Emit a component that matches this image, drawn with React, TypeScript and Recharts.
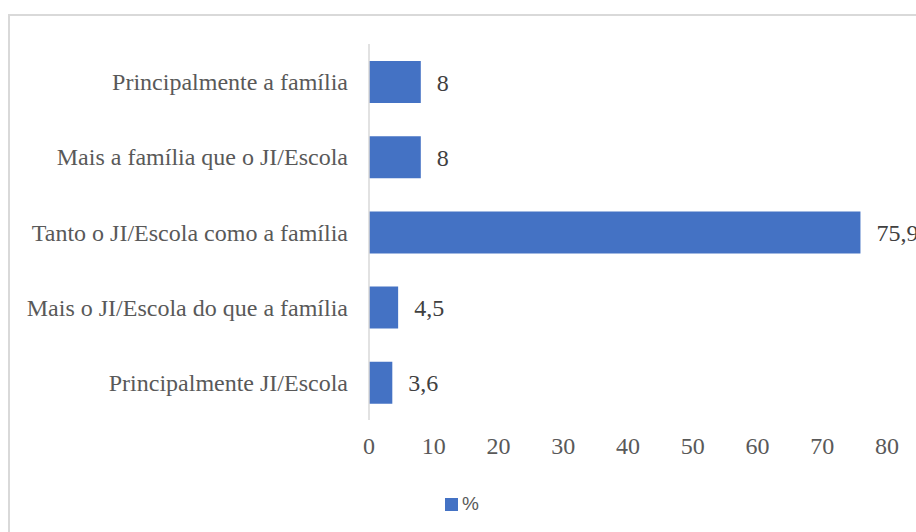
import { type ReactElement } from 'react';
import { Bar, BarChart, LabelList, Legend, XAxis, YAxis } from 'recharts';

const categories = [
  'Principalmente a família',
  'Mais a família que o JI/Escola',
  'Tanto o JI/Escola como a família',
  'Mais o JI/Escola do que a família',
  'Principalmente JI/Escola',
];

const percentValues = [8, 8, 75.9, 4.5, 3.6];

const xTicks = [0, 10, 20, 30, 40, 50, 60, 70, 80];

const data = categories.map((name, i) => ({ name, value: percentValues[i] }));

const SERIF = '"Liberation Serif", "Times New Roman", serif';
const BAR_COLOR = '#4472c4';

function PercentLegend(): ReactElement {
  return (
    <div style={{ display: 'flex', alignItems: 'center' }}>
      <span
        style={{ display: 'inline-block', width: 13, height: 13, background: BAR_COLOR, marginRight: 4 }}
      />
      <span style={{ fontFamily: '"Liberation Sans", Arial, sans-serif', fontSize: 19, color: '#595959' }}>
        %
      </span>
    </div>
  );
}

// value labels drawn by hand so the serif font sticks
function ValueLabel(props: any): ReactElement {
  const { x, y, width, height, value } = props;
  return (
    <text
      x={Number(x) + Number(width) + 16}
      y={Number(y) + Number(height) / 2}
      dy="0.355em"
      fill="#404040"
      fontSize={24}
      fontFamily={SERIF}
      textAnchor="start"
    >
      {String(value).replace('.', ',')}
    </text>
  );
}

export default function App(): ReactElement {
  return (
    <div
      style={{
        position: 'fixed',
        left: 0,
        top: 0,
        width: 916,
        height: 532,
        overflow: 'hidden',
        background: '#fff',
        fontFamily: SERIF,
      }}
    >
      <div
        style={{
          position: 'absolute',
          left: 8,
          top: 14,
          width: 1000,
          height: 1000,
          border: '2px solid #d9d9d9',
        }}
      />
      <div style={{ position: 'absolute', left: 0, top: 0 }}>
        <BarChart
          width={916}
          height={532}
          data={data}
          layout="vertical"
          margin={{ top: 44, right: 29, bottom: 72, left: 0 }}
        >
          <XAxis
            type="number"
            domain={[0, 80]}
            ticks={xTicks}
            interval={0}
            height={40}
            axisLine={false}
            tickLine={false}
            tickSize={0}
            tickMargin={17}
            tick={{ fill: '#595959', fontSize: 24, fontFamily: SERIF }}
          />
          <YAxis
            type="category"
            dataKey="name"
            width={369}
            axisLine={{ stroke: '#d9d9d9', strokeWidth: 1.5 }}
            tickLine={false}
            tickSize={0}
            tickMargin={21}
            interval={0}
            tick={{ fill: '#595959', fontSize: 24, fontFamily: SERIF }}
          />
          <Legend
            layout="horizontal"
            verticalAlign="middle"
            align="center"
            wrapperStyle={{ top: 493, left: 445, width: 'auto' }}
            content={() => <PercentLegend />}
          />
          <Bar dataKey="value" name="%" fill={BAR_COLOR} barSize={42} isAnimationActive={false}>
            <LabelList dataKey="value" content={ValueLabel} />
          </Bar>
        </BarChart>
      </div>
    </div>
  );
}
